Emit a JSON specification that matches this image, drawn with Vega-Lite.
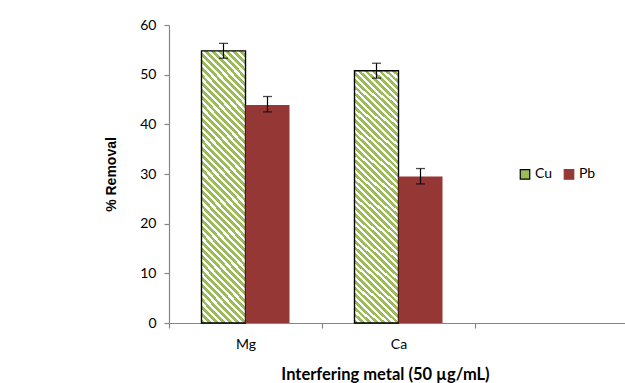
{
  "$schema": "https://vega.github.io/schema/vega-lite/v6.json",
  "width": 456,
  "height": 298,
  "autosize": "none",
  "padding": {"left": 169, "top": 25, "right": 0, "bottom": 60},
  "background": "white",
  "config": {
    "view": {"stroke": null},
    "font": "Lato",
    "axis": {"domainColor": "#868686", "tickColor": "#868686", "labelColor": "#000000", "titleColor": "#000000", "grid": false, "domainWidth": 1.2, "tickWidth": 1.2}
  },
  "data": {
    "values": [
      {"metal": "Mg", "series": "Cu", "value": 54.8, "lo": 53.3, "hi": 56.3},
      {"metal": "Mg", "series": "Pb", "value": 43.9, "lo": 42.5, "hi": 45.6},
      {"metal": "Ca", "series": "Cu", "value": 50.8, "lo": 49.3, "hi": 52.3},
      {"metal": "Ca", "series": "Pb", "value": 29.5, "lo": 28.0, "hi": 31.1}
    ]
  },
  "encoding": {
    "x": {
      "field": "metal",
      "type": "nominal",
      "sort": null,
      "scale": {"domain": ["Mg", "Ca", "_"], "range": [0, 459], "paddingInner": 0, "paddingOuter": 0},
      "axis": {
        "title": "Interfering metal (50 µg/mL)",
        "titleFontWeight": "bold",
        "titleFontSize": 16.5,
        "titlePadding": 15,
        "titleX": 216,
        "titleAlign": "center",
        "labelFontSize": 14,
        "labelPadding": 9,
        "labelAngle": 0,
        "tickSize": 5,
        "tickBand": "extent",
        "labelExpr": "datum.value === '_' ? '' : datum.value"
      }
    },
    "xOffset": {"field": "series", "type": "nominal", "scale": {"domain": ["Cu", "Pb"], "paddingInner": 0, "paddingOuter": 0.7386}}
  },
  "layer": [
    {
      "mark": {"type": "bar", "strokeWidth": 1.4},
      "encoding": {
        "y": {
          "field": "value",
          "type": "quantitative",
          "scale": {"domain": [0, 60]},
          "axis": {
            "title": "% Removal",
            "titleFont": "Liberation Sans",
            "titleFontWeight": "bold",
            "titleFontSize": 14,
            "titlePadding": 21,
            "labelFontSize": 14,
            "labelPadding": 8,
            "tickSize": 5,
            "values": [0, 10, 20, 30, 40, 50, 60]
          }
        },
        "fill": {
          "condition": {
            "test": "datum.series === 'Cu'",
            "value": {
              "gradient": "linear",
              "x1": 0, "y1": 1, "x2": 0.191, "y2": -0.136,
              "stops": [
                {"offset": 0, "color": "#9BBB59"}, {"offset": 0.0125, "color": "#9BBB59"}, {"offset": 0.0125, "color": "#FFFFFF"}, {"offset": 0.0227, "color": "#FFFFFF"},
                {"offset": 0.0227, "color": "#9BBB59"}, {"offset": 0.0352, "color": "#9BBB59"}, {"offset": 0.0352, "color": "#FFFFFF"}, {"offset": 0.0455, "color": "#FFFFFF"},
                {"offset": 0.0455, "color": "#9BBB59"}, {"offset": 0.0580, "color": "#9BBB59"}, {"offset": 0.0580, "color": "#FFFFFF"}, {"offset": 0.0682, "color": "#FFFFFF"},
                {"offset": 0.0682, "color": "#9BBB59"}, {"offset": 0.0807, "color": "#9BBB59"}, {"offset": 0.0807, "color": "#FFFFFF"}, {"offset": 0.0909, "color": "#FFFFFF"},
                {"offset": 0.0909, "color": "#9BBB59"}, {"offset": 0.1034, "color": "#9BBB59"}, {"offset": 0.1034, "color": "#FFFFFF"}, {"offset": 0.1136, "color": "#FFFFFF"},
                {"offset": 0.1136, "color": "#9BBB59"}, {"offset": 0.1261, "color": "#9BBB59"}, {"offset": 0.1261, "color": "#FFFFFF"}, {"offset": 0.1364, "color": "#FFFFFF"},
                {"offset": 0.1364, "color": "#9BBB59"}, {"offset": 0.1489, "color": "#9BBB59"}, {"offset": 0.1489, "color": "#FFFFFF"}, {"offset": 0.1591, "color": "#FFFFFF"},
                {"offset": 0.1591, "color": "#9BBB59"}, {"offset": 0.1716, "color": "#9BBB59"}, {"offset": 0.1716, "color": "#FFFFFF"}, {"offset": 0.1818, "color": "#FFFFFF"},
                {"offset": 0.1818, "color": "#9BBB59"}, {"offset": 0.1943, "color": "#9BBB59"}, {"offset": 0.1943, "color": "#FFFFFF"}, {"offset": 0.2045, "color": "#FFFFFF"},
                {"offset": 0.2045, "color": "#9BBB59"}, {"offset": 0.2170, "color": "#9BBB59"}, {"offset": 0.2170, "color": "#FFFFFF"}, {"offset": 0.2273, "color": "#FFFFFF"},
                {"offset": 0.2273, "color": "#9BBB59"}, {"offset": 0.2398, "color": "#9BBB59"}, {"offset": 0.2398, "color": "#FFFFFF"}, {"offset": 0.2500, "color": "#FFFFFF"},
                {"offset": 0.2500, "color": "#9BBB59"}, {"offset": 0.2625, "color": "#9BBB59"}, {"offset": 0.2625, "color": "#FFFFFF"}, {"offset": 0.2727, "color": "#FFFFFF"},
                {"offset": 0.2727, "color": "#9BBB59"}, {"offset": 0.2852, "color": "#9BBB59"}, {"offset": 0.2852, "color": "#FFFFFF"}, {"offset": 0.2955, "color": "#FFFFFF"},
                {"offset": 0.2955, "color": "#9BBB59"}, {"offset": 0.3080, "color": "#9BBB59"}, {"offset": 0.3080, "color": "#FFFFFF"}, {"offset": 0.3182, "color": "#FFFFFF"},
                {"offset": 0.3182, "color": "#9BBB59"}, {"offset": 0.3307, "color": "#9BBB59"}, {"offset": 0.3307, "color": "#FFFFFF"}, {"offset": 0.3409, "color": "#FFFFFF"},
                {"offset": 0.3409, "color": "#9BBB59"}, {"offset": 0.3534, "color": "#9BBB59"}, {"offset": 0.3534, "color": "#FFFFFF"}, {"offset": 0.3636, "color": "#FFFFFF"},
                {"offset": 0.3636, "color": "#9BBB59"}, {"offset": 0.3761, "color": "#9BBB59"}, {"offset": 0.3761, "color": "#FFFFFF"}, {"offset": 0.3864, "color": "#FFFFFF"},
                {"offset": 0.3864, "color": "#9BBB59"}, {"offset": 0.3989, "color": "#9BBB59"}, {"offset": 0.3989, "color": "#FFFFFF"}, {"offset": 0.4091, "color": "#FFFFFF"},
                {"offset": 0.4091, "color": "#9BBB59"}, {"offset": 0.4216, "color": "#9BBB59"}, {"offset": 0.4216, "color": "#FFFFFF"}, {"offset": 0.4318, "color": "#FFFFFF"},
                {"offset": 0.4318, "color": "#9BBB59"}, {"offset": 0.4443, "color": "#9BBB59"}, {"offset": 0.4443, "color": "#FFFFFF"}, {"offset": 0.4545, "color": "#FFFFFF"},
                {"offset": 0.4545, "color": "#9BBB59"}, {"offset": 0.4670, "color": "#9BBB59"}, {"offset": 0.4670, "color": "#FFFFFF"}, {"offset": 0.4773, "color": "#FFFFFF"},
                {"offset": 0.4773, "color": "#9BBB59"}, {"offset": 0.4898, "color": "#9BBB59"}, {"offset": 0.4898, "color": "#FFFFFF"}, {"offset": 0.5000, "color": "#FFFFFF"},
                {"offset": 0.5000, "color": "#9BBB59"}, {"offset": 0.5125, "color": "#9BBB59"}, {"offset": 0.5125, "color": "#FFFFFF"}, {"offset": 0.5227, "color": "#FFFFFF"},
                {"offset": 0.5227, "color": "#9BBB59"}, {"offset": 0.5352, "color": "#9BBB59"}, {"offset": 0.5352, "color": "#FFFFFF"}, {"offset": 0.5455, "color": "#FFFFFF"},
                {"offset": 0.5455, "color": "#9BBB59"}, {"offset": 0.5580, "color": "#9BBB59"}, {"offset": 0.5580, "color": "#FFFFFF"}, {"offset": 0.5682, "color": "#FFFFFF"},
                {"offset": 0.5682, "color": "#9BBB59"}, {"offset": 0.5807, "color": "#9BBB59"}, {"offset": 0.5807, "color": "#FFFFFF"}, {"offset": 0.5909, "color": "#FFFFFF"},
                {"offset": 0.5909, "color": "#9BBB59"}, {"offset": 0.6034, "color": "#9BBB59"}, {"offset": 0.6034, "color": "#FFFFFF"}, {"offset": 0.6136, "color": "#FFFFFF"},
                {"offset": 0.6136, "color": "#9BBB59"}, {"offset": 0.6261, "color": "#9BBB59"}, {"offset": 0.6261, "color": "#FFFFFF"}, {"offset": 0.6364, "color": "#FFFFFF"},
                {"offset": 0.6364, "color": "#9BBB59"}, {"offset": 0.6489, "color": "#9BBB59"}, {"offset": 0.6489, "color": "#FFFFFF"}, {"offset": 0.6591, "color": "#FFFFFF"},
                {"offset": 0.6591, "color": "#9BBB59"}, {"offset": 0.6716, "color": "#9BBB59"}, {"offset": 0.6716, "color": "#FFFFFF"}, {"offset": 0.6818, "color": "#FFFFFF"},
                {"offset": 0.6818, "color": "#9BBB59"}, {"offset": 0.6943, "color": "#9BBB59"}, {"offset": 0.6943, "color": "#FFFFFF"}, {"offset": 0.7045, "color": "#FFFFFF"},
                {"offset": 0.7045, "color": "#9BBB59"}, {"offset": 0.7170, "color": "#9BBB59"}, {"offset": 0.7170, "color": "#FFFFFF"}, {"offset": 0.7273, "color": "#FFFFFF"},
                {"offset": 0.7273, "color": "#9BBB59"}, {"offset": 0.7398, "color": "#9BBB59"}, {"offset": 0.7398, "color": "#FFFFFF"}, {"offset": 0.7500, "color": "#FFFFFF"},
                {"offset": 0.7500, "color": "#9BBB59"}, {"offset": 0.7625, "color": "#9BBB59"}, {"offset": 0.7625, "color": "#FFFFFF"}, {"offset": 0.7727, "color": "#FFFFFF"},
                {"offset": 0.7727, "color": "#9BBB59"}, {"offset": 0.7852, "color": "#9BBB59"}, {"offset": 0.7852, "color": "#FFFFFF"}, {"offset": 0.7955, "color": "#FFFFFF"},
                {"offset": 0.7955, "color": "#9BBB59"}, {"offset": 0.8080, "color": "#9BBB59"}, {"offset": 0.8080, "color": "#FFFFFF"}, {"offset": 0.8182, "color": "#FFFFFF"},
                {"offset": 0.8182, "color": "#9BBB59"}, {"offset": 0.8307, "color": "#9BBB59"}, {"offset": 0.8307, "color": "#FFFFFF"}, {"offset": 0.8409, "color": "#FFFFFF"},
                {"offset": 0.8409, "color": "#9BBB59"}, {"offset": 0.8534, "color": "#9BBB59"}, {"offset": 0.8534, "color": "#FFFFFF"}, {"offset": 0.8636, "color": "#FFFFFF"},
                {"offset": 0.8636, "color": "#9BBB59"}, {"offset": 0.8761, "color": "#9BBB59"}, {"offset": 0.8761, "color": "#FFFFFF"}, {"offset": 0.8864, "color": "#FFFFFF"},
                {"offset": 0.8864, "color": "#9BBB59"}, {"offset": 0.8989, "color": "#9BBB59"}, {"offset": 0.8989, "color": "#FFFFFF"}, {"offset": 0.9091, "color": "#FFFFFF"},
                {"offset": 0.9091, "color": "#9BBB59"}, {"offset": 0.9216, "color": "#9BBB59"}, {"offset": 0.9216, "color": "#FFFFFF"}, {"offset": 0.9318, "color": "#FFFFFF"},
                {"offset": 0.9318, "color": "#9BBB59"}, {"offset": 0.9443, "color": "#9BBB59"}, {"offset": 0.9443, "color": "#FFFFFF"}, {"offset": 0.9545, "color": "#FFFFFF"},
                {"offset": 0.9545, "color": "#9BBB59"}, {"offset": 0.9670, "color": "#9BBB59"}, {"offset": 0.9670, "color": "#FFFFFF"}, {"offset": 0.9773, "color": "#FFFFFF"},
                {"offset": 0.9773, "color": "#9BBB59"}, {"offset": 0.9898, "color": "#9BBB59"}, {"offset": 0.9898, "color": "#FFFFFF"}, {"offset": 1, "color": "#FFFFFF"}
              ]
            }
          },
          "field": "series",
          "type": "nominal",
          "scale": {"domain": ["Cu", "Pb"], "range": ["#9BBB59", "#953735"]},
          "legend": {
            "title": null,
            "orient": "none",
            "legendX": 349,
            "legendY": 142,
            "direction": "horizontal",
            "symbolType": "square",
            "symbolSize": 90,
            "symbolStrokeColor": "#000000",
            "symbolStrokeWidth": 1.2,
            "labelFontSize": 14,
            "labelOffset": 3,
            "columnPadding": 8,
            "encode": {
              "symbols": {
                "update": {
                  "stroke": {"signal": "datum.value === 'Cu' ? '#000000' : '#953735'"},
                  "fill": {"signal": "datum.value === 'Cu' ? {gradient: 'linear', x1: 0, y1: 0, x2: 1, y2: 1, stops: [{offset: 0, color: '#9BBB59'}, {offset: 0.5, color: '#9BBB59'}, {offset: 0.5, color: '#FFFFFF'}, {offset: 0.75, color: '#FFFFFF'}, {offset: 0.75, color: '#9BBB59'}, {offset: 1, color: '#9BBB59'}]} : '#953735'"}
                }
              }
            }
          }
        },
        "stroke": {"condition": {"test": "datum.series === 'Cu'", "value": "#000000"}, "value": "transparent"}
      }
    },
    {
      "mark": {"type": "rule", "color": "#000000", "strokeWidth": 1.2},
      "encoding": {
        "y": {"field": "lo", "type": "quantitative"},
        "y2": {"field": "hi"}
      }
    },
    {
      "mark": {"type": "tick", "color": "#000000", "thickness": 1.3, "size": 9, "orient": "horizontal"},
      "encoding": {"y": {"field": "lo", "type": "quantitative"}}
    },
    {
      "mark": {"type": "tick", "color": "#000000", "thickness": 1.3, "size": 9, "orient": "horizontal"},
      "encoding": {"y": {"field": "hi", "type": "quantitative"}}
    }
  ]
}
